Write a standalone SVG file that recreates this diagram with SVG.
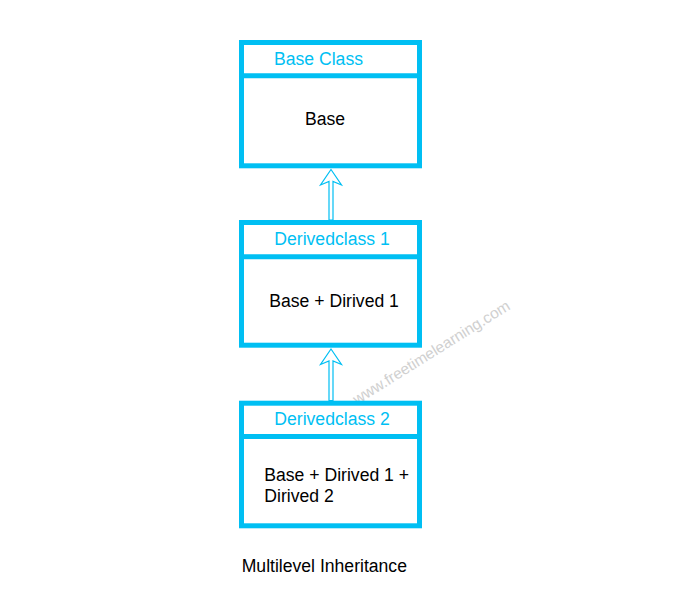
<svg xmlns="http://www.w3.org/2000/svg" width="676" height="600" viewBox="0 0 676 600">
<style>
.box{fill:#fff;stroke:#00BFF3;stroke-width:5}
.div{stroke:#00BFF3;stroke-width:5}
.title{font-family:"Liberation Sans",Arial,sans-serif;font-size:17.6px;fill:#00BFF3}
.body{font-family:"Liberation Sans",Arial,sans-serif;font-size:17.6px;fill:#000}
.arrow{fill:#fff;stroke:#00BFF3;stroke-width:1.2;stroke-linejoin:miter}
.wm{font-family:"Liberation Sans",Arial,sans-serif;font-size:15.5px;fill:#d0d0d0}
</style>
<rect width="676" height="600" fill="#fff"/>
<text class="wm" x="0" y="0" transform="translate(357,405) rotate(-32)">www.freetimelearning.com</text>
<g id="connectors">
<polygon class="arrow" points="331,169.5 341.5,185 333,181.5 333,220 329,220 329,181.5 320.5,185"/>
<polygon class="arrow" points="331,349 341.5,364.5 333,361 333,400.5 329,400.5 329,361 320.5,364.5"/>
</g>
<g id="base">
<rect class="box" x="241.5" y="42.5" width="178" height="123.3"/>
<line class="div" x1="241.5" y1="75.8" x2="419.5" y2="75.8"/>
<text class="title" x="274" y="65">Base Class</text>
<text class="body" x="305" y="125">Base</text>
</g>
<g id="derived1">
<rect class="box" x="241.5" y="222.5" width="178" height="122.7"/>
<line class="div" x1="241.5" y1="256.7" x2="419.5" y2="256.7"/>
<text class="title" x="274.3" y="245">Derivedclass 1</text>
<text class="body" x="269.3" y="306.7">Base + Dirived 1</text>
</g>
<g id="derived2">
<rect class="box" x="241.5" y="403.2" width="178" height="122.6"/>
<line class="div" x1="241.5" y1="436.5" x2="419.5" y2="436.5"/>
<text class="title" x="274.3" y="425">Derivedclass 2</text>
<text class="body" x="264.3" y="480.7">Base + Dirived 1 +</text>
<text class="body" x="264.3" y="501.7">Dirived 2</text>
</g>
<text class="body" x="241.7" y="572.3">Multilevel Inheritance</text>
</svg>
